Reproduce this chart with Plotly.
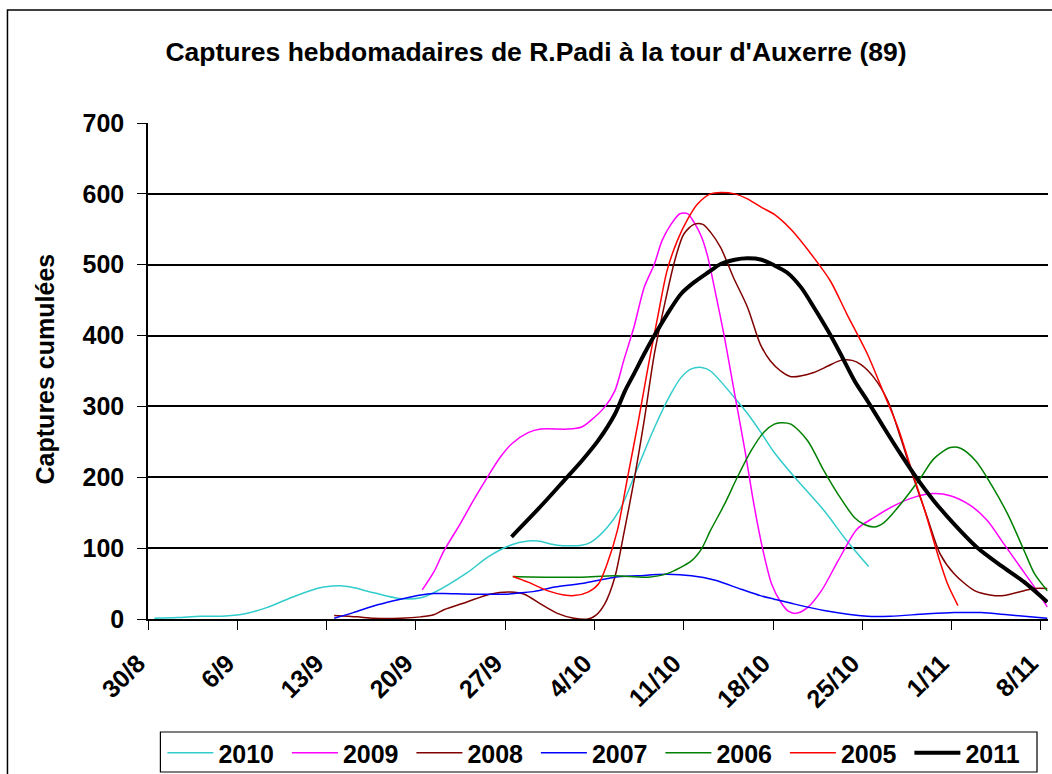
import plotly.graph_objects as go

# x values: days after 30 August (tick positions are the weekly dates)
tick_days = [0, 7, 14, 21, 28, 35, 42, 49, 56, 63, 70]
tick_labels = ["30/8", "6/9", "13/9", "20/9", "27/9", "4/10", "11/10", "18/10", "25/10", "1/11", "8/11"]

x_2010 = [0.5, 2.3, 4.1, 5.8, 7.5, 9.3, 11.2, 12.7, 13.8, 15.1, 15.9, 17.7, 19.7, 21.4, 22.4, 25.0, 26.7,
          28.4, 29.8, 30.6, 32.1, 34.0, 34.7, 36.0, 37.1, 38.4, 39.7, 41.0, 41.8, 42.6, 43.4, 44.1, 46.0,
          47.0, 48.1, 49.1, 50.7, 53.0, 54.8, 56.5]
y_2010 = [1, 2, 4, 4, 7, 16, 30, 40, 45, 47, 45, 37, 29, 30, 37, 65, 88,
          104, 110, 110, 104, 104, 108, 129, 158, 214, 270, 318, 341, 353, 355, 350, 312,
          290, 262, 235, 200, 153, 110, 74]

x_2009 = [21.5, 22.4, 23.2, 24.5, 25.5, 26.6, 27.6, 28.5, 29.8, 30.8, 32.9, 34.0, 34.7, 35.8, 36.6, 37.3,
          38.1, 38.9, 39.7, 40.3, 41.0, 41.7, 42.3, 42.8, 43.4, 43.9, 44.4, 45.2, 46.0, 46.8, 47.5, 48.2,
          48.9, 49.6, 50.2, 50.8, 51.7, 52.8, 54.1, 55.6, 56.9, 58.5, 60.1, 61.6, 62.9, 64.5, 65.8, 67.1,
          68.4, 69.5, 70.5]
y_2009 = [41, 66, 96, 135, 167, 200, 228, 247, 263, 268, 268, 271, 280, 299, 322, 365,
          412, 468, 501, 534, 557, 572, 572, 560, 539, 510, 468, 397, 317, 238, 162, 98,
          49, 24, 11, 8, 16, 40, 82, 127, 143, 160, 172, 177, 174, 160, 139, 106,
          73, 45, 17]

x_2008 = [14.6, 16.4, 17.7, 19.8, 21.4, 22.4, 23.2, 25.0, 26.8, 28.4, 29.5, 30.8, 32.1, 33.4, 34.5, 35.1,
          35.8, 36.6, 37.3, 38.1, 38.9, 39.7, 40.5, 41.3, 42.0, 42.8, 43.5, 44.1, 44.9, 45.9, 47.0, 48.0,
          48.8, 49.6, 50.4, 52.2, 53.3, 54.3, 55.2, 55.9, 56.9, 58.0, 59.0, 60.0, 61.1, 62.1, 63.2, 64.8,
          66.0, 67.1, 68.7, 69.5, 70.5]
y_2008 = [5, 3, 1, 1, 3, 6, 13, 24, 35, 38, 35, 21, 8, 1, 0, 5,
          21, 59, 120, 195, 280, 374, 444, 506, 543, 557, 557, 546, 524, 482, 440, 388,
          364, 350, 342, 348, 357, 365, 365, 359, 341, 308, 256, 200, 143, 92, 64, 40,
          34, 33, 40, 43, 43]

x_2007 = [14.6, 16.1, 18.0, 19.8, 21.4, 22.4, 23.2, 25.5, 28.1, 29.2, 30.3, 31.9, 34.0, 36.6, 38.4, 40.7,
          42.6, 44.4, 46.5, 48.0, 49.1, 50.7, 53.0, 56.4, 58.2, 60.9, 63.2, 65.3, 67.4, 70.5]
y_2007 = [1, 9, 20, 28, 34, 36, 36, 35, 35, 37, 39, 45, 50, 59, 61, 63,
          61, 55, 42, 33, 28, 21, 12, 4, 4, 7, 9, 9, 6, 1]

x_2006 = [28.6, 31.3, 34.0, 36.6, 39.2, 40.7, 42.6, 43.4, 44.1, 45.2, 46.2, 47.3, 48.3, 49.1, 49.6, 50.4,
          51.7, 53.0, 54.1, 55.4, 56.2, 57.0, 57.7, 59.0, 60.6, 61.6, 62.9, 63.7, 64.9, 66.1, 67.4, 68.7,
          69.5, 70.5]
y_2006 = [60, 59, 59, 61, 59, 64, 82, 99, 125, 162, 200, 238, 264, 275, 277, 275,
          252, 209, 176, 143, 133, 130, 136, 162, 200, 226, 242, 241, 223, 190, 148, 96,
          64, 40]

x_2005 = [28.6, 29.8, 31.3, 32.6, 33.4, 34.5, 35.3, 36.0, 36.8, 37.6, 38.4, 39.2, 40.0, 40.7, 41.5, 42.3,
          43.1, 44.1, 44.9, 46.0, 47.0, 48.1, 49.1, 50.4, 52.2, 53.5, 54.8, 56.4, 57.7, 58.8, 59.8, 60.9,
          61.9, 62.7, 63.5]
y_2005 = [60, 52, 40, 34, 33, 38, 49, 78, 125, 200, 275, 355, 430, 492, 534, 564,
          586, 600, 602, 600, 593, 581, 571, 550, 510, 477, 430, 374, 318, 270, 214, 153,
          92, 49, 19]

x_2011 = [28.5, 30.0, 31.3, 32.6, 34.0, 35.3, 36.6, 37.4, 38.1, 38.9, 39.7, 40.7, 41.8, 42.8, 43.9, 44.9,
          46.0, 47.0, 48.1, 49.1, 50.1, 51.2, 52.2, 53.3, 54.3, 55.4, 56.4, 57.7, 59.0, 60.3, 61.6, 63.2,
          65.0, 66.9, 68.7, 70.5]
y_2011 = [116, 144, 169, 195, 223, 252, 289, 322, 346, 374, 400, 430, 459, 475, 489, 501,
          507, 509, 507, 499, 489, 468, 440, 407, 374, 336, 308, 270, 233, 198, 167, 134,
          101, 75, 52, 24]

series = [
    ("2010", x_2010, y_2010, "#33CCCC", 1.5),
    ("2009", x_2009, y_2009, "#FF00FF", 1.5),
    ("2008", x_2008, y_2008, "#800000", 1.5),
    ("2007", x_2007, y_2007, "#0000FF", 1.5),
    ("2006", x_2006, y_2006, "#008000", 1.5),
    ("2005", x_2005, y_2005, "#FF0000", 1.5),
    ("2011", x_2011, y_2011, "#000000", 4),
]

FONT = "Liberation Sans, Arial, sans-serif"

fig = go.Figure()
for name, xs, ys, color, w in series:
    fig.add_trace(go.Scatter(
        x=xs, y=ys, name=name, mode="lines",
        line=dict(color=color, width=w, shape="spline", smoothing=0.8),
    ))

W, H = 1052, 774
L, R, T, B = 147.6, 4, 123, 155
pw = W - L - R
ph = H - T - B


def px_x(v):
    return (v - L) / pw


def px_y(v):
    return (T + ph - v) / ph


fig.update_layout(
    width=W, height=H,
    margin=dict(l=L, r=R, t=T, b=B, autoexpand=False),
    paper_bgcolor="white", plot_bgcolor="white",
    font=dict(family=FONT, color="black", size=24),
    title=dict(
        text="<b>Captures hebdomadaires de R.Padi à la tour d'Auxerre (89)</b>",
        x=536 / W, xref="container", xanchor="center",
        y=1 - 52 / H, yref="container", yanchor="middle",
        font=dict(family=FONT, size=26.5, color="black"),
    ),
    xaxis=dict(
        range=[0, 70.56], tickmode="array", tickvals=tick_days, ticktext=tick_labels,
        tickangle=-45, ticks="outside", ticklen=9, tickwidth=1.2, tickcolor="black",
        showline=True, linecolor="black", linewidth=1.5, showgrid=False, zeroline=False,
        ticklabelstandoff=9, ticklabelshift=-10, ticklabeloverflow="allow",
        tickfont=dict(family=FONT, size=25, color="black", weight="bold"),
    ),
    yaxis=dict(
        range=[0, 700], tickmode="array", tickvals=[0, 100, 200, 300, 400, 500, 600, 700],
        ticks="outside", ticklen=9, tickwidth=1.2, tickcolor="black",
        showline=True, linecolor="black", linewidth=1.5,
        showgrid=True, gridcolor="black", gridwidth=1.5, zeroline=False,
        ticklabelstandoff=8,
        tickfont=dict(family=FONT, size=25, color="black", weight="bold"),
    ),
    showlegend=True,
    legend=dict(
        orientation="h", x=px_x(162), xanchor="left", y=px_y(730), yanchor="top",
        borderwidth=0, bgcolor="rgba(0,0,0,0)",
        font=dict(family=FONT, size=25, color="black", weight="bold"),
        entrywidth=63.5, entrywidthmode="pixels", itemwidth=46, tracegroupgap=0,
    ),
    annotations=[dict(
        text="<b>Captures cumulées</b>", textangle=-90,
        xref="paper", yref="paper", x=px_x(45), y=px_y(369),
        xanchor="center", yanchor="middle", showarrow=False,
        font=dict(family=FONT, size=25, color="black"),
    )],
    shapes=[
        dict(
            type="rect", xref="paper", yref="paper", layer="below",
            x0=px_x(7), x1=px_x(1060), y0=px_y(790), y1=px_y(10),
            line=dict(color="black", width=1.5), fillcolor="rgba(0,0,0,0)",
        ),
        dict(
            type="rect", xref="paper", yref="paper", layer="below",
            x0=px_x(160), x1=px_x(1037), y0=px_y(772), y1=px_y(732),
            line=dict(color="black", width=1.2), fillcolor="white",
        ),
    ],
)

fig.write_html("out.html", config={"displayModeBar": False},
               post_script="document.body.style.margin='0px';")
